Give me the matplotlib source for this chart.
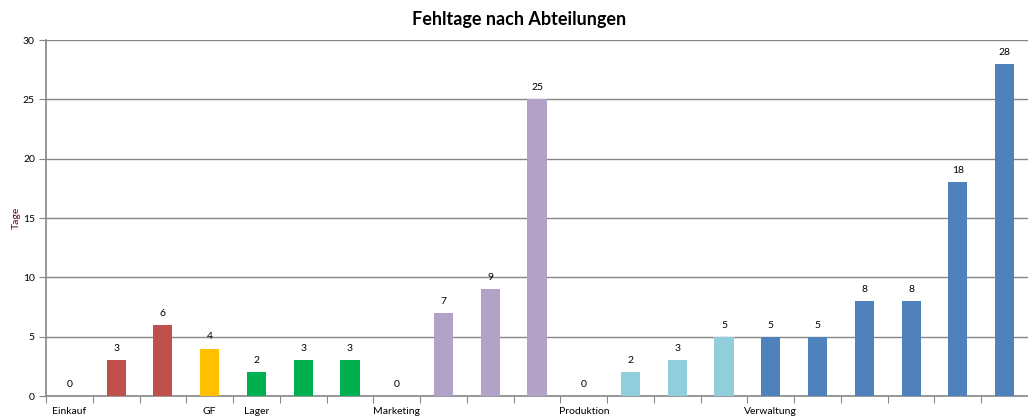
import matplotlib.pyplot as plt
import numpy as np

# data
values = [0, 3, 6, 4, 2, 3, 3, 0, 7, 9, 25, 0, 2, 3, 5, 5, 5, 8, 8, 18, 28]
groups = ['Einkauf'] * 3 + ['GF'] + ['Lager'] * 3 + ['Marketing'] * 4 + \
         ['Produktion'] * 4 + ['Verwaltung'] * 6
group_colors = {'Einkauf': '#C0504D', 'GF': '#FFC000', 'Lager': '#00B050',
                'Marketing': '#B2A2C7', 'Produktion': '#92CDDC',
                'Verwaltung': '#4F81BD'}

plt.rcParams['font.family'] = ['Lato', 'DejaVu Sans']

fig = plt.figure(figsize=(10.28, 4.2), dpi=100)
ax = fig.add_axes([46 / 1028, 1 - 396 / 420, 982 / 1028, 356 / 420])

x = np.arange(len(values))
colors = [group_colors[g] for g in groups]
bars = ax.bar(x, values, width=0.41, color=colors, zorder=3)
for xi, v in zip(x, values):
    ax.text(xi, v + 0.6, str(v), ha='center', va='bottom', fontsize=7.5, zorder=4)

ax.set_xlim(-0.5, len(values) - 0.5)
ax.set_ylim(0, 30)
ax.set_yticks(range(0, 31, 5))
ax.grid(axis='y', color='#868686', linewidth=1, zorder=0)

# category boundaries as ticks, group name under first bar of group
ax.set_xticks(np.arange(-0.5, len(values), 1))
ax.set_xticklabels([])
labels = []
prev = None
for g in groups:
    labels.append(g if g != prev else '')
    prev = g
ax.set_xticks(x, minor=True)
ax.set_xticklabels(labels, minor=True, fontsize=7.5)
ax.tick_params(axis='x', which='major', length=5, color='#868686')
ax.tick_params(axis='x', which='minor', length=0, pad=8)
ax.tick_params(axis='y', length=5, color='#868686', labelsize=7.5, pad=3)

for s in ['top', 'right']:
    ax.spines[s].set_visible(False)
for s in ['left', 'bottom']:
    ax.spines[s].set_color('#868686')
    ax.spines[s].set_linewidth(1.2)

ax.set_ylabel('Tage', fontsize=7.5, color='#5A0F22')
ax.yaxis.set_label_coords(-25 / 982, 0.5)
fig.suptitle('Fehltage nach Abteilungen', fontsize=13, fontweight='bold', x=0.505, y=0.975)

plt.savefig('out.png', dpi=100)
